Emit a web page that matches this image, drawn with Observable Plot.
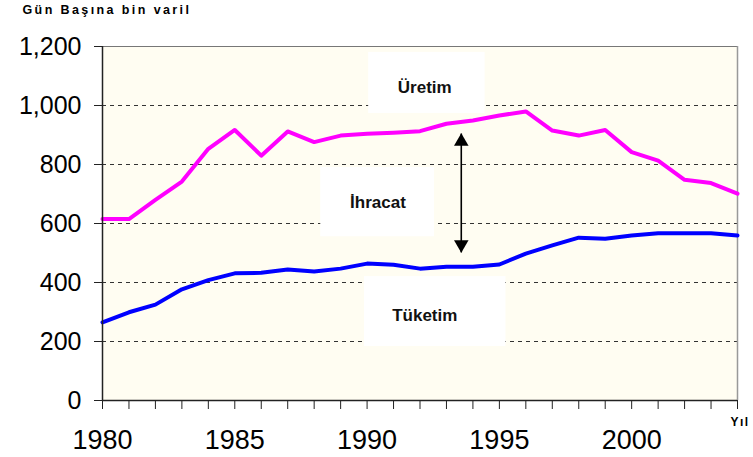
<!DOCTYPE html>
<html>
<head>
<meta charset="utf-8">
<script src="https://cdn.jsdelivr.net/npm/d3@7"></script>
<script src="https://cdn.jsdelivr.net/npm/@observablehq/plot@0.6"></script>
<style>
  html, body { margin: 0; padding: 0; background: #ffffff; }
</style>
</head>
<body>
<div id="chart"></div>
<script>
// ---- data ----
const years = [1980,1981,1982,1983,1984,1985,1986,1987,1988,1989,1990,1991,1992,1993,1994,1995,1996,1997,1998,1999,2000,2001,2002,2003,2004];
const production = [615,615,680,742,853,917,830,912,876,898,904,908,913,938,949,966,980,915,898,917,842,813,748,737,701];
const consumption = [265,299,325,377,408,431,433,444,437,447,464,460,447,453,453,461,498,526,552,548,559,567,567,567,559];
const yTicks = [0,200,400,600,800,1000,1200];
const gridValues = [200,400,600,800,1000];
const xLabelYears = [1980,1985,1990,1995,2000];
const yTitle = "Gün Başına bin varil";
const xTitle = "Yıl";

// annotation boxes and labels (data coordinates)
const boxes = [
  {x1: 1990.06, x2: 1994.46, y1: 973, y2: 1180},
  {x1: 1988.25, x2: 1992.55, y1: 555, y2: 790},
  {x1: 1989.90, x2: 1995.25, y1: 183, y2: 420}
];
const labels = [
  {x: 1992.18, y: 1042, text: "Üretim"},
  {x: 1990.41, y: 654, text: "İhracat"},
  {x: 1992.18, y: 269, text: "Tüketim"}
];
const arrow = {x: 1993.56, top: 905, bottom: 502};

const prodData = years.map((y, i) => ({year: y, value: production[i]}));
const consData = years.map((y, i) => ({year: y, value: consumption[i]}));

const chart = Plot.plot({
  width: 753,
  height: 457,
  marginLeft: 102,
  marginRight: 16,
  marginTop: 46,
  marginBottom: 57,
  style: {fontFamily: "'Liberation Sans', Arial, sans-serif", background: "#ffffff", color: "#000"},
  x: {domain: [1980, 2004]},
  y: {domain: [0, 1200]},
  marks: [
    Plot.frame({fill: "#FFFDF2", stroke: "none"}),
    Plot.ruleY(gridValues, {stroke: "#333", strokeDasharray: "4,4", strokeWidth: 1}),
    Plot.rect(boxes, {x1: "x1", x2: "x2", y1: "y1", y2: "y2", fill: "#ffffff"}),
    Plot.ruleY([1200], {stroke: "#777", strokeWidth: 1}),
    Plot.ruleX([2004], {stroke: "#999", strokeWidth: 1.5}),
    Plot.line(prodData, {x: "year", y: "value", stroke: "#FF00FF", strokeWidth: 4}),
    Plot.line(consData, {x: "year", y: "value", stroke: "#0000FF", strokeWidth: 4}),
    Plot.link([arrow], {x1: "x", x2: "x", y1: "top", y2: "bottom", stroke: "#000", strokeWidth: 1.6}),
    Plot.dot([arrow], {x: "x", y: "top", symbol: "triangle", r: 5.4, fill: "#000", stroke: "none", dy: 8}),
    Plot.dot([arrow], {x: "x", y: "bottom", symbol: "triangle", r: 5.4, fill: "#000", stroke: "none", dy: -8, rotate: 180}),
    Plot.text(labels, {x: "x", y: "y", text: "text", fontSize: 17, fontWeight: "bold", fill: "#111", lineAnchor: "bottom"}),
    Plot.axisX({
      ticks: years, tickSize: 9, tickPadding: 20, fontSize: 27, stroke: "#222",
      tickFormat: d => xLabelYears.includes(d) ? String(d) : "", label: null
    }),
    Plot.axisY({
      ticks: yTicks, tickSize: 8, tickPadding: 13, fontSize: 25, stroke: "#222",
      tickFormat: d3.format(","), label: null
    }),
    Plot.ruleX([1980], {stroke: "#222", strokeWidth: 1.5}),
    Plot.ruleY([0], {stroke: "#222", strokeWidth: 1.5}),
    Plot.text([yTitle], {text: d => d, frameAnchor: "top-left", dx: -80, dy: -33, lineAnchor: "bottom", textAnchor: "start", fontSize: 12.5, fontWeight: "bold", fill: "#000"}),
    Plot.text([xTitle], {text: d => d, frameAnchor: "bottom-right", dx: -7, dy: 25, lineAnchor: "bottom", textAnchor: "start", fontSize: 12, fontWeight: "bold", fill: "#000"})
  ]
});

// letter spacing for the small bold titles
chart.querySelectorAll("text").forEach(t => {
  if (t.textContent === yTitle) t.setAttribute("letter-spacing", "2.4");
  if (t.textContent === xTitle) t.setAttribute("letter-spacing", "1.5");
});

document.getElementById("chart").appendChild(chart);
</script>
</body>
</html>
